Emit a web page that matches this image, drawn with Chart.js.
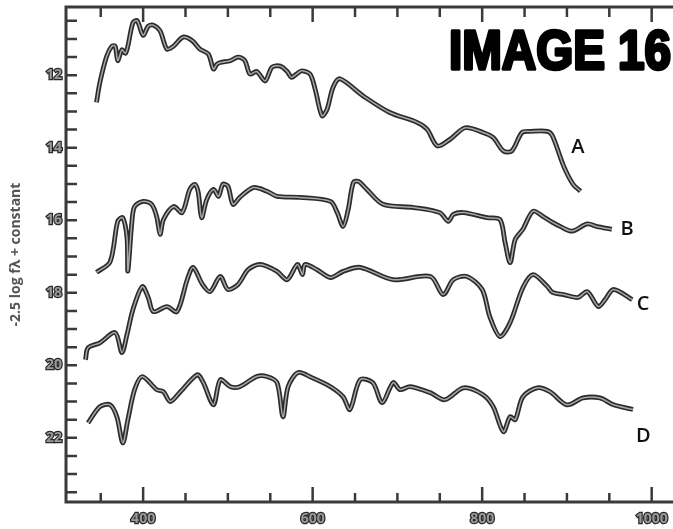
<!DOCTYPE html>
<html>
<head>
<meta charset="utf-8">
<script src="https://cdn.jsdelivr.net/npm/chart.js@4.4.0/dist/chart.umd.min.js"></script>
<style>
  html, body { margin: 0; padding: 0; background: #fff; overflow: hidden; }
  #wrap { width: 673px; height: 529px; position: relative; overflow: hidden; }
  #box { position: absolute; left: 0; top: -4px; width: 700px; height: 533px; }
</style>
</head>
<body>
<div id="wrap"><div id="box"><canvas id="chart"></canvas></div></div>
<script>
// Data (wavelength vs. -2.5 log f + constant)
const aX = [345,349,357,363,367,370,375,379,382,388,393,400,406,412,420,428,436,447,458,467,477,483,487,491,503,512,520,526,534,544,552,562,570,575,581,587,597,603,611,617,624,632,660,691,723,735,747,762,780,801,813,825,835,847,857,877,883,896,907,916];
const aY = [12.75,12.2,11.48,11.2,11.2,11.6,11.3,11.4,11.2,10.55,10.5,10.9,10.65,10.62,10.78,11.28,11.2,10.95,11.05,11.28,11.42,11.83,11.7,11.65,11.6,11.5,11.6,11.97,11.9,12.16,11.78,11.75,11.9,12.06,11.97,11.88,11.97,12.39,13.12,12.94,12.34,12.1,12.58,13.03,13.3,13.49,13.95,13.77,13.45,13.58,13.72,14.09,14.09,13.58,13.55,13.55,13.68,14.5,15.0,15.2];

const bX = [345,361,370,376,381,382,387,390,400,410,416,420,424,436,446,455,461,465,469,475,483,489,494,500,506,514,530,546,558,585,621,629,636,642,648,654,664,683,719,750,760,766,778,806,821,827,833,839,848,860,872,883,892,906,924,935,953];
const bY = [17.44,17.15,16.03,15.93,16.5,17.4,15.98,15.62,15.48,15.56,15.9,16.39,15.98,15.62,15.79,15.15,15.01,15.23,15.93,15.43,15.15,15.34,15.01,15.06,15.56,15.37,15.1,15.2,15.34,15.37,15.48,15.79,16.17,15.7,14.96,14.93,15.15,15.56,15.65,15.79,16.03,15.84,15.79,15.93,15.98,16.61,17.17,16.53,16.25,15.75,15.9,16.06,16.17,16.3,16.1,16.17,16.25];

const cX = [332,335,349,367,375,381,388,399,406,412,428,440,452,459,470,479,491,500,512,524,538,558,570,582,588,591,605,621,636,656,695,739,754,766,782,800,809,821,833,848,860,877,883,896,913,924,937,945,955,977];
const cY = [19.85,19.52,19.38,19.1,19.65,19.15,18.46,17.83,18.13,18.52,18.38,18.52,17.64,17.3,17.77,17.97,17.55,17.91,17.77,17.36,17.22,17.41,17.64,17.22,17.5,17.22,17.36,17.58,17.41,17.3,17.64,17.55,18.05,17.64,17.55,17.91,18.66,19.21,18.82,17.86,17.5,17.83,17.99,18.05,18.13,17.97,18.38,18.19,17.91,18.19];

const dX = [335,349,361,369,376,382,390,399,416,424,432,444,464,471,483,491,503,514,534,546,558,565,571,583,599,621,636,644,656,671,682,695,703,715,739,756,778,801,813,825,833,839,848,865,880,900,919,939,955,978];
const dY = [21.59,21.14,21.09,21.42,22.14,21.5,20.67,20.31,20.67,20.73,21.0,20.73,20.26,20.48,21.09,20.4,20.59,20.59,20.31,20.31,20.48,21.42,20.59,20.2,20.34,20.59,20.87,21.22,20.4,20.48,21.03,20.48,20.67,20.59,20.76,20.95,20.62,20.81,21.14,21.83,21.42,21.5,20.87,20.62,20.73,21.09,20.9,20.9,21.09,21.22];

const seriesNames = ['A', 'B', 'C', 'D'];
// label anchor points, in data units
const labelX = [913, 971, 990, 990];
const labelY = [13.99, 16.25, 18.33, 21.97];

const xTicks = [400, 600, 800, 1000];
const yTicks = [12, 14, 16, 18, 20, 22];

const toPoints = (xs, ys) => xs.map((x, i) => ({ x: x, y: ys[i] }));
const allSeries = [[aX, aY], [bX, bY], [cX, cY], [dX, dY]];

// each spectrum drawn twice: dark outer stroke, light core
const datasets = [];
allSeries.forEach((s, i) => {
  const pts = toPoints(s[0], s[1]);
  datasets.push({ label: seriesNames[i], data: pts, showLine: true, pointRadius: 0,
    borderColor: '#2b2b2b', borderWidth: 4.8, tension: 0.3, order: 2 });
  datasets.push({ label: seriesNames[i] + ' core', data: pts, showLine: true, pointRadius: 0,
    borderColor: '#a8a8a8', borderWidth: 1.5, tension: 0.3, order: 1 });
});

// frame, inward ticks, series letters and the stamp
const framePlugin = {
  id: 'frame',
  afterDatasetsDraw(chart) {
    const { ctx, chartArea: a, scales } = chart;
    const xs = scales.x, ys = scales.y;
    ctx.save();
    ctx.strokeStyle = '#3a3a3a';
    ctx.lineWidth = 3;
    ctx.beginPath();
    ctx.moveTo(chart.width, a.top); ctx.lineTo(a.left, a.top);
    ctx.lineTo(a.left, a.bottom); ctx.lineTo(chart.width, a.bottom);
    ctx.stroke();

    ctx.lineWidth = 2.5;
    ctx.beginPath();
    for (let v = 350; v <= 1050; v += 50) {
      const px = xs.getPixelForValue(v);
      const major = v % 200 === 0;
      ctx.moveTo(px, a.bottom); ctx.lineTo(px, a.bottom - (major ? 15 : 9));
      ctx.moveTo(px, a.top); ctx.lineTo(px, a.top + (major ? 15 : 10));
    }
    for (let v = 10.5; v <= 23.5; v += 0.5) {
      const py = ys.getPixelForValue(v);
      ctx.moveTo(a.left, py); ctx.lineTo(a.left + 11, py);
    }
    ctx.stroke();

    ctx.fillStyle = '#111';
    ctx.font = '600 20px "Open Sans", sans-serif';
    ctx.textAlign = 'center';
    ctx.textBaseline = 'middle';
    seriesNames.forEach((n, i) => {
      ctx.fillText(n, xs.getPixelForValue(labelX[i]), ys.getPixelForValue(labelY[i]));
    });

    // heavy stamp text, top right
    ctx.fillStyle = '#000';
    ctx.strokeStyle = '#000';
    ctx.lineWidth = 3.5;
    ctx.lineJoin = 'round';
    ctx.font = 'bold 56px "Liberation Sans Narrow", "Liberation Sans", sans-serif';
    ctx.textAlign = 'left';
    ctx.textBaseline = 'alphabetic';
    ctx.strokeText('IMAGE 16', 449, 73, 222);
    ctx.fillText('IMAGE 16', 449, 73, 222);
    ctx.restore();
  }
};

const tickFont = { family: '"Open Sans", sans-serif', size: 14, weight: 'bold', lineHeight: 1 };

new Chart(document.getElementById('chart'), {
  type: 'scatter',
  data: { datasets: datasets },
  plugins: [framePlugin],
  options: {
    responsive: true,
    maintainAspectRatio: false,
    animation: false,
    layout: { padding: { top: 8, right: 0, left: 0, bottom: 0 } },
    plugins: { legend: { display: false }, tooltip: { enabled: false } },
    scales: {
      x: {
        type: 'linear',
        min: 309,
        max: 1057,
        grid: { display: false, drawTicks: false },
        border: { display: false },
        afterBuildTicks: (s) => { s.ticks = xTicks.map(v => ({ value: v })); },
        afterFit: (s) => { s.height = 27; },
        ticks: {
          padding: 10,
          color: '#9a9a9a',
          textStrokeColor: '#2a2a2a',
          textStrokeWidth: 2.5,
          font: tickFont,
          maxRotation: 0,
          callback: (v) => String(v)
        }
      },
      y: {
        type: 'linear',
        reverse: true,
        min: 10.12,
        max: 23.77,
        grid: { display: false, drawTicks: false },
        border: { display: false },
        afterBuildTicks: (s) => { s.ticks = yTicks.map(v => ({ value: v })); },
        afterFit: (s) => { s.width = 66; },
        ticks: {
          padding: 4,
          color: '#9a9a9a',
          textStrokeColor: '#2a2a2a',
          textStrokeWidth: 2.5,
          font: tickFont,
          callback: (v) => String(v)
        },
        title: {
          display: true,
          text: '-2.5 log f\u03BB + constant',
          color: '#555',
          padding: { top: 8, bottom: 0 },
          font: { family: '"Open Sans", sans-serif', size: 14, weight: 'bold' }
        }
      }
    }
  }
});
</script>
</body>
</html>
